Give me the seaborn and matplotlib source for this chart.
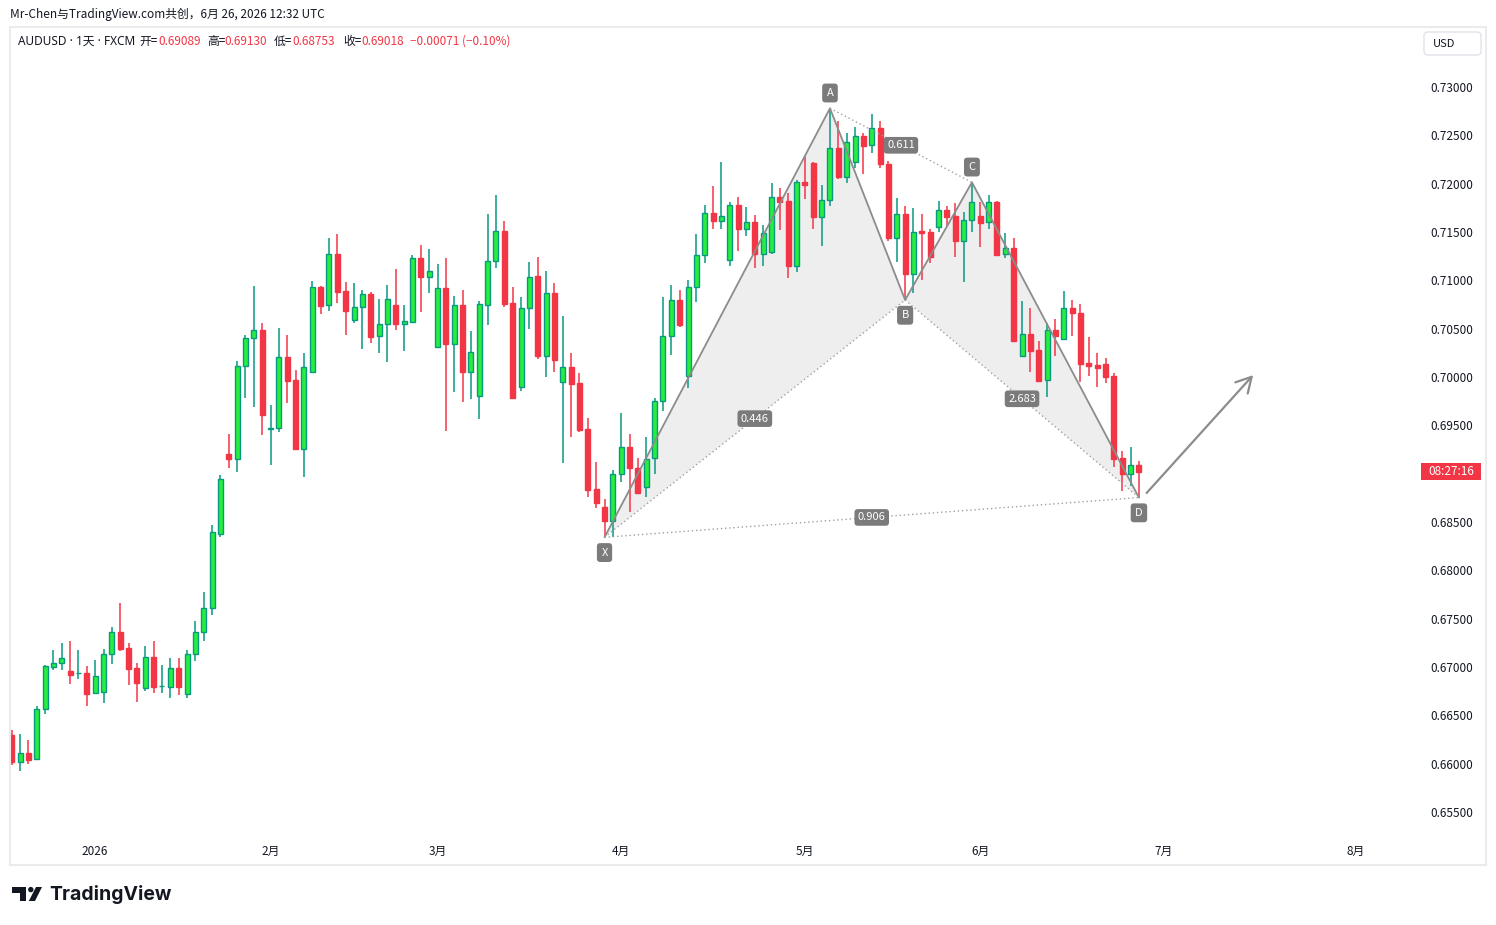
import matplotlib
matplotlib.use("Agg")
import matplotlib.pyplot as plt
import matplotlib.transforms as mtransforms
from matplotlib.patches import FancyBboxPatch, Rectangle, Polygon, Circle
import numpy as np
import pandas as pd
import seaborn as sns

# AUDUSD daily candles (FXCM)
opens = [0.66296, 0.66020, 0.66107, 0.66045, 0.66562, 0.67003, 0.67038, 0.66959, 0.66933, 0.66935,
         0.66728, 0.66744, 0.67131, 0.67359, 0.67193, 0.66986, 0.66780, 0.67100, 0.66800, 0.66796,
         0.66986, 0.66717, 0.67131, 0.67359, 0.67607, 0.68376, 0.69203, 0.69149, 0.70114, 0.70400,
         0.70486, 0.69467, 0.69469, 0.70204, 0.69969, 0.69252, 0.70049, 0.70928, 0.70742, 0.71269,
         0.70890, 0.70587, 0.70721, 0.70859, 0.70421, 0.70545, 0.70745, 0.70545, 0.70572, 0.71228,
         0.71038, 0.70313, 0.70918, 0.70344, 0.70742, 0.70055, 0.69807, 0.70748, 0.71197, 0.71507,
         0.70762, 0.69900, 0.70711, 0.71042, 0.70220, 0.70866, 0.69945, 0.70100, 0.69938, 0.69462,
         0.68841, 0.68652, 0.68513, 0.68993, 0.69273, 0.69055, 0.68859, 0.69159, 0.69749, 0.70421,
         0.70797, 0.70007, 0.70928, 0.71262, 0.71693, 0.71617, 0.71207, 0.71776, 0.71528, 0.71600,
         0.71276, 0.71296, 0.71859, 0.71821, 0.71151, 0.72014, 0.72214, 0.71658, 0.71828, 0.72366,
         0.72066, 0.72221, 0.72490, 0.72400, 0.72573, 0.72203, 0.71435, 0.71683, 0.71062, 0.71510,
         0.71500, 0.71555, 0.71724, 0.71666, 0.71410, 0.71621, 0.71666, 0.71600, 0.71813, 0.71269,
         0.71331, 0.70220, 0.70442, 0.70279, 0.69966, 0.70486, 0.70390, 0.70711, 0.70659, 0.70142,
         0.70124, 0.70131, 0.70013, 0.69159, 0.68996, 0.69089]
highs = [0.66348, 0.66307, 0.66245, 0.66596, 0.67021, 0.67176, 0.67245, 0.67269, 0.67176, 0.67010,
         0.67072, 0.67186, 0.67417, 0.67665, 0.67251, 0.67044, 0.67217, 0.67269, 0.67021, 0.67090,
         0.67090, 0.67176, 0.67476, 0.67773, 0.68469, 0.68986, 0.69410, 0.70166, 0.70434, 0.70941,
         0.70555, 0.69710, 0.70507, 0.70434, 0.70072, 0.70245, 0.70993, 0.70944, 0.71435, 0.71479,
         0.70983, 0.70969, 0.70900, 0.70882, 0.70807, 0.70952, 0.71117, 0.70745, 0.71262, 0.71365,
         0.71324, 0.71169, 0.71228, 0.70838, 0.70900, 0.70476, 0.70786, 0.71686, 0.71883, 0.71614,
         0.70928, 0.70824, 0.71187, 0.71238, 0.71097, 0.70969, 0.70631, 0.70251, 0.70044, 0.69573,
         0.69118, 0.68735, 0.69038, 0.69624, 0.69407, 0.69159, 0.69376, 0.69786, 0.70828, 0.70952,
         0.70900, 0.71003, 0.71479, 0.71779, 0.71976, 0.72227, 0.71810, 0.71859, 0.71762, 0.71676,
         0.71569, 0.72004, 0.71955, 0.71907, 0.72038, 0.72286, 0.72220, 0.71986, 0.72780, 0.72648,
         0.72527, 0.72589, 0.72521, 0.72721, 0.72648, 0.72234, 0.71855, 0.71769, 0.71745, 0.71683,
         0.71528, 0.71821, 0.71769, 0.71803, 0.71707, 0.72014, 0.71807, 0.71883, 0.71821, 0.71493,
         0.71435, 0.70786, 0.70711, 0.70372, 0.70555, 0.70600, 0.70890, 0.70797, 0.70755, 0.70411,
         0.70245, 0.70197, 0.70038, 0.69238, 0.69273, 0.69130]
lows = [0.65986, 0.65927, 0.65996, 0.66038, 0.66514, 0.66969, 0.66969, 0.66824, 0.66876, 0.66596,
        0.66720, 0.66631, 0.67031, 0.67169, 0.66814, 0.66641, 0.66755, 0.66734, 0.66734, 0.66676,
        0.66710, 0.66676, 0.67065, 0.67272, 0.67538, 0.68345, 0.69062, 0.69020, 0.69780, 0.69693,
        0.69403, 0.69093, 0.69434, 0.69728, 0.69250, 0.68969, 0.70045, 0.70652, 0.70686, 0.70762,
        0.70434, 0.70555, 0.70287, 0.70355, 0.70251, 0.70158, 0.70486, 0.70272, 0.70562, 0.70676,
        0.70872, 0.70310, 0.69444, 0.69848, 0.69744, 0.69776, 0.69569, 0.70538, 0.71131, 0.70727,
        0.69782, 0.69858, 0.70497, 0.70186, 0.70003, 0.70055, 0.69113, 0.69382, 0.69434, 0.68762,
        0.68648, 0.68342, 0.68345, 0.68917, 0.68600, 0.68800, 0.68762, 0.68993, 0.69651, 0.70224,
        0.70517, 0.69883, 0.70779, 0.71176, 0.71528, 0.71528, 0.71151, 0.71307, 0.71462, 0.71124,
        0.71151, 0.71269, 0.71521, 0.71027, 0.71089, 0.71844, 0.71534, 0.71358, 0.71772, 0.72048,
        0.72010, 0.72159, 0.72097, 0.72320, 0.72165, 0.71410, 0.71193, 0.70797, 0.70872, 0.71003,
        0.71176, 0.71503, 0.71562, 0.71244, 0.70986, 0.71503, 0.71348, 0.71531, 0.71258, 0.71234,
        0.70372, 0.70210, 0.70055, 0.69952, 0.69796, 0.70217, 0.70386, 0.70424, 0.69952, 0.70013,
        0.69900, 0.69941, 0.69072, 0.68824, 0.68876, 0.68753]
closes = [0.66020, 0.66107, 0.66038, 0.66562, 0.67010, 0.67038, 0.67090, 0.66917, 0.66938, 0.66721,
          0.66910, 0.67131, 0.67359, 0.67186, 0.66979, 0.66837, 0.67100, 0.66796, 0.66803, 0.66986,
          0.66790, 0.67131, 0.67359, 0.67607, 0.68397, 0.68942, 0.69149, 0.70114, 0.70400, 0.70483,
          0.69610, 0.69472, 0.70204, 0.69962, 0.69252, 0.70100, 0.70928, 0.70738, 0.71269, 0.70882,
          0.70686, 0.70721, 0.70859, 0.70417, 0.70545, 0.70804, 0.70545, 0.70576, 0.71228, 0.71038,
          0.71097, 0.70918, 0.70341, 0.70742, 0.70052, 0.70255, 0.70752, 0.71197, 0.71507, 0.70758,
          0.69786, 0.70711, 0.71038, 0.70220, 0.70866, 0.70176, 0.70100, 0.69928, 0.69452, 0.68831,
          0.68693, 0.68513, 0.68996, 0.69273, 0.69055, 0.68803, 0.69155, 0.69749, 0.70421, 0.70797,
          0.70541, 0.70928, 0.71262, 0.71693, 0.71617, 0.71662, 0.71776, 0.71528, 0.71600, 0.71276,
          0.71487, 0.71859, 0.71813, 0.71151, 0.72014, 0.71986, 0.71658, 0.71828, 0.72366, 0.72066,
          0.72428, 0.72490, 0.72393, 0.72573, 0.72200, 0.71441, 0.71683, 0.71062, 0.71503, 0.71493,
          0.71244, 0.71724, 0.71658, 0.71410, 0.71621, 0.71807, 0.71596, 0.71807, 0.71262, 0.71331,
          0.70376, 0.70442, 0.70272, 0.69959, 0.70486, 0.70427, 0.70711, 0.70659, 0.70138, 0.70117,
          0.70096, 0.70003, 0.69155, 0.68993, 0.69087, 0.69018]

# month labels on the time axis (bar index where each month starts)
month_pos = [10, 31, 51, 73, 95, 116, 138, 161]
month_labels = ['2026', '2月', '3月', '4月', '5月', '6月', '7月', '8月']

# XABCD harmonic pattern
pattern_names = ['X', 'A', 'B', 'C', 'D']
pattern_idx = [71, 98, 107, 115, 135]
pattern_price = [0.68342, 0.72780, 0.70797, 0.72014, 0.68753]
ratio_pairs = [(0, 2), (1, 3), (2, 4), (0, 4)]
ratio_text = ['0.446', '0.611', '2.683', '0.906']

# projection arrow (bar index, price)
arrow_from = (135.7, 0.68779)
arrow_to = (148.9, 0.70041)

price_ticks = np.arange(0.655, 0.73001, 0.005)

title_text = 'Mr-Chen与TradingView.com共创，6月 26, 2026 12:32 UTC'
symbol_text = 'AUDUSD · 1天 · FXCM'
change_text = '−0.00071 (−0.10%)'
countdown = '08:27:16'

GREEN = '#27EE3C'
TEAL = '#089981'
RED = '#F23645'
DARK = '#131722'
GREY = '#7b7b7b'

sns.set_theme(style='white')
plt.rcParams['font.family'] = ['Noto Sans CJK SC', 'DejaVu Sans']

fig = plt.figure(figsize=(14.96, 9.25), dpi=100)
ax = fig.add_axes([10 / 1496, 88 / 925, 1412 / 1496, 810 / 925])
ax.patch.set_alpha(0)

o, h, l, c = map(np.array, (opens, highs, lows, closes))
idx = np.arange(len(o))
up = c >= o
dn = ~up
body_lo = np.minimum(o, c)
body_h = np.maximum(np.abs(c - o), 0.00008)

# pattern fill behind the candles
ax.fill(pattern_idx[0:3], pattern_price[0:3], color='#eeeeee', zorder=1, lw=0)
ax.fill(pattern_idx[2:5], pattern_price[2:5], color='#eeeeee', zorder=1, lw=0)

# candles
ax.vlines(idx[up], l[up], h[up], color=TEAL, lw=1.1, zorder=3)
ax.vlines(idx[dn], l[dn], h[dn], color=RED, lw=1.1, zorder=3)
ax.bar(idx[up], body_h[up], bottom=body_lo[up], width=0.6, color=GREEN,
       edgecolor=TEAL, linewidth=1.0, zorder=4)
ax.bar(idx[dn], body_h[dn], bottom=body_lo[dn], width=0.6, color=RED,
       edgecolor=RED, linewidth=1.0, zorder=4)

# pattern legs
legs = pd.DataFrame({'bar': pattern_idx, 'price': pattern_price})
sns.lineplot(data=legs, x='bar', y='price', sort=False, color='#8c8c8c', lw=1.3,
             ax=ax, zorder=5)
for (a, b), txt in zip(ratio_pairs, ratio_text):
    ax.plot([pattern_idx[a], pattern_idx[b]], [pattern_price[a], pattern_price[b]],
            color='#a0a0a0', lw=1.0, ls=(0, (1, 2)), zorder=5)
    mx = (pattern_idx[a] + pattern_idx[b]) / 2
    my = (pattern_price[a] + pattern_price[b]) / 2
    ax.text(mx, my, txt, ha='center', va='center', color='white', fontsize=8, zorder=7,
            bbox=dict(boxstyle='round,pad=0.3,rounding_size=0.3', fc=GREY, ec='none'))

for i, name in enumerate(pattern_names):
    dy = 11 if name in ('A', 'C') else -11
    ax.annotate(name, (pattern_idx[i], pattern_price[i]), xytext=(0, dy),
                textcoords='offset points', ha='center', va='center', color='white',
                fontsize=8, zorder=7,
                bbox=dict(boxstyle='round,pad=0.4,rounding_size=0.3', fc=GREY, ec='none'))

ax.annotate('', xy=arrow_to, xytext=arrow_from, zorder=6,
            arrowprops=dict(arrowstyle='->,head_length=0.9,head_width=0.5',
                            color='#8c8c8c', lw=1.6))

ax.set_xlim(-0.2, 168.9)
ax.set_ylim(0.652416, 0.736207)
ax.yaxis.tick_right()
# the countdown box covers the price label next to the last close
shown_ticks = [v for v in price_ticks if abs(v - closes[-1]) > 0.0015]
ax.set_yticks(shown_ticks)
ax.set_yticklabels([f'{v:.5f}' for v in shown_ticks])
ax.set_xticks(month_pos)
ax.set_xticklabels(month_labels)
ax.tick_params(axis='y', length=0, pad=6, labelsize=8.5, labelcolor=DARK)
ax.tick_params(axis='x', length=0, pad=6, labelsize=8.5, labelcolor=DARK)
ax.set_xlabel('')
ax.set_ylabel('')
for s in ax.spines.values():
    s.set_visible(False)
ax.grid(False)

# countdown box on the price scale at the last close
blend = mtransforms.blended_transform_factory(ax.transAxes, ax.transData)
ax.add_patch(Rectangle((0.9995, closes[-1] - 0.00088), 0.0425, 0.00176, transform=blend,
                       fc=RED, ec='none', clip_on=False, zorder=8))
ax.text(1.0207, closes[-1], countdown, transform=blend, ha='center', va='center',
        color='white', fontsize=8.5, zorder=9, clip_on=False)

# chrome: header, legend, panel border, logo (pixel coordinates)
ov = fig.add_axes([0, 0, 1, 1])
ov.set_xlim(0, 1496)
ov.set_ylim(925, 0)
ov.axis('off')

ov.add_patch(Rectangle((10, 27), 1476, 838, fill=False, ec='#ebebeb', lw=1.5))
ov.text(10, 14, title_text, ha='left', va='center', fontsize=8.5, color=DARK)

legend_parts = [('开=', 139, DARK), (f'{opens[-1]:.5f}', 158, RED),
                ('高=', 207, DARK), (f'{highs[-1]:.5f}', 224, RED),
                ('低=', 274, DARK), (f'{lows[-1]:.5f}', 292, RED),
                ('收=', 343, DARK), (f'{closes[-1]:.5f}', 361, RED),
                (change_text, 410, RED)]
ov.text(18, 41.5, symbol_text, ha='left', va='center', fontsize=8.5, color=DARK,
        family=['Noto Sans', 'Noto Sans CJK SC'])
for txt, x0, col in legend_parts:
    ov.text(x0, 41.5, txt, ha='left', va='center', fontsize=8.5, color=col)

ov.add_patch(FancyBboxPatch((1424, 32), 57, 23, boxstyle='round,pad=0,rounding_size=4',
                            fc='white', ec='#e0e3eb', lw=1))
ov.text(1433, 44, 'USD', ha='left', va='center', fontsize=8, color=DARK)

# TradingView logo
ov.add_patch(Rectangle((12, 887), 14.5, 5.5, fc=DARK, ec='none'))
ov.add_patch(Rectangle((20.5, 887), 6, 14, fc=DARK, ec='none'))
ov.add_patch(Circle((30.8, 889.6), 2.7, fc=DARK, ec='none'))
ov.add_patch(Polygon([(36, 887), (42, 887), (35, 901), (28.8, 901)], closed=True, fc=DARK, ec='none'))
ov.text(49, 895, 'TradingView', ha='left', va='center', fontsize=14, fontweight='bold',
        color=DARK, family=['Inter', 'DejaVu Sans'])

fig.savefig('out.png', dpi=100)
